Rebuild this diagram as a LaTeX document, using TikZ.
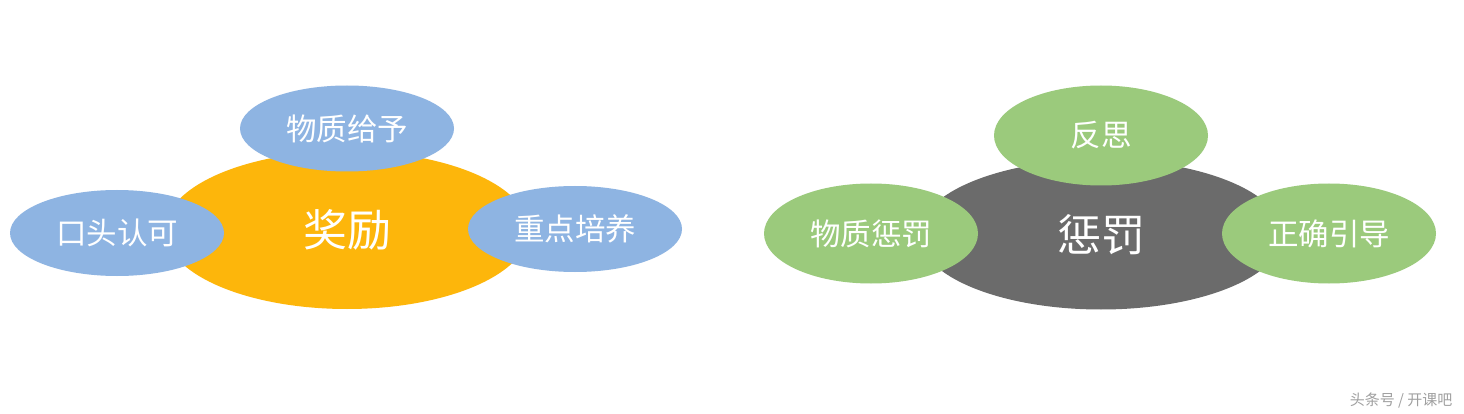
\documentclass[tikz,border=0pt]{standalone}
\usepackage{fontspec}
\setmainfont{Noto Sans CJK SC}
\usetikzlibrary{shapes.geometric}
\definecolor{rewardorange}{HTML}{FDB60B}
\definecolor{leafblue}{HTML}{8EB4E2}
\definecolor{punishgray}{HTML}{6B6B6B}
\definecolor{leafgreen}{HTML}{9BCA7C}
\definecolor{markgray}{HTML}{A0A0A0}
\tikzset{
  hub/.style={ellipse, inner sep=0pt, minimum width=364pt, minimum height=158pt, text=white, font=\fontsize{44}{48}\selectfont},
  leaf/.style={ellipse, inner sep=0pt, minimum width=214pt, text=white, font=\fontsize{30.5}{34}\selectfont},
}
\begin{document}
\begin{tikzpicture}[x=1pt,y=-1pt]
\useasboundingbox (0,0) rectangle (1464,414);
\fill[white] (0,0) rectangle (1464,414);
% reward group
\node[hub, fill=rewardorange] (reward) at (347,230) {奖励};
\node[leaf, fill=leafblue, minimum height=86pt] (material) at (347,128.5) {物质给予};
\node[leaf, fill=leafblue, minimum height=86pt] (verbal) at (117,233) {口头认可};
\node[leaf, fill=leafblue, minimum height=86pt] (train) at (575,229) {重点培养};
% punishment group
\node[hub, fill=punishgray, minimum height=150pt] (punish) at (1101,234.5) {惩罚};
\node[leaf, fill=leafgreen, minimum height=100pt] (reflect) at (1101,135.5) {反思};
\node[leaf, fill=leafgreen, minimum height=100pt] (mpunish) at (871,233.5) {物质惩罚};
\node[leaf, fill=leafgreen, minimum height=100pt] (guide) at (1329,233.5) {正确引导};
% watermark
\node[text=markgray, font=\fontsize{15}{17}\selectfont, anchor=east] (mark) at (1456,401) {头条号 / 开课吧};
\end{tikzpicture}
\end{document}
